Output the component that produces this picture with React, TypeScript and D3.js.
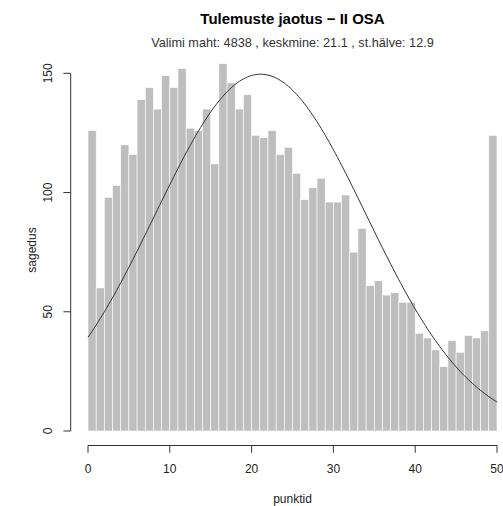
import React from 'react';
import * as d3 from 'd3';

// counts per 1-point bin, 0..50
const binStarts = d3.range(0, 50);
const counts = [
  126, 60, 98, 103, 120, 116, 139, 144, 135, 149,
  144, 152, 127, 126, 135, 112, 154, 146, 135, 141,
  124, 123, 126, 116, 119, 108, 97, 102, 106, 96,
  96, 99, 75, 85, 61, 63, 57, 58, 54, 54,
  41, 39, 34, 27, 38, 33, 40, 39, 42, 124,
];
const xTicks = [0, 10, 20, 30, 40, 50];
const yTicks = [0, 50, 100, 150];

// stats shown in the subtitle (used for the normal curve too)
const sampleSize = 4838;
const sampleMean = 21.1;
const sampleSd = 12.9;

const title = 'Tulemuste jaotus \u2212 II OSA';
const subtitle = `Valimi maht: ${sampleSize} , keskmine: ${sampleMean} , st.hälve: ${sampleSd}`;

const width = 503;
const height = 506;
const font = '"Liberation Sans", Arial, sans-serif';

const App = () => {
  const x = d3.scaleLinear().domain([0, 50]).range([88, 497]);
  const y = d3.scaleLinear().domain([0, 150]).range([431, 73.3]);

  const density = (v: number) =>
    (sampleSize / (sampleSd * Math.sqrt(2 * Math.PI))) *
    Math.exp(-0.5 * ((v - sampleMean) / sampleSd) ** 2);

  const curvePts = d3.range(0, 50.01, 0.25).map((v) => [v, density(v)] as [number, number]);
  const line = d3
    .line<[number, number]>()
    .x((d) => x(d[0]))
    .y((d) => y(d[1]));

  const axisX = 70.7;
  const axisY = 445.5;

  return (
    <svg
      width={width}
      height={height}
      style={{ position: 'absolute', left: 0, top: 0, background: '#fff' }}
      fontFamily={font}
    >
      {/* bars */}
      {binStarts.map((b, i) => (
        <rect
          key={b}
          x={x(b)}
          y={y(counts[i])}
          width={x(b + 1) - x(b)}
          height={y(0) - y(counts[i])}
          fill="#bebebe"
          stroke="#ffffff"
          strokeWidth={0.6}
        />
      ))}

      {/* normal curve */}
      <path d={line(curvePts) || ''} fill="none" stroke="#333" strokeWidth={1} />

      {/* y axis */}
      <line x1={axisX} x2={axisX} y1={y(0)} y2={y(150)} stroke="#333" />
      {yTicks.map((t) => (
        <g key={t}>
          <line x1={axisX - 7.3} x2={axisX} y1={y(t)} y2={y(t)} stroke="#333" />
          <text
            transform={`translate(52,${y(t)}) rotate(-90)`}
            textAnchor="middle"
            fontSize={12}
            fill="#222"
          >
            {t}
          </text>
        </g>
      ))}

      {/* x axis */}
      <line x1={x(0)} x2={x(50)} y1={axisY} y2={axisY} stroke="#333" />
      {xTicks.map((t) => (
        <g key={t}>
          <line x1={x(t)} x2={x(t)} y1={axisY} y2={axisY + 7.3} stroke="#333" />
          <text x={x(t)} y={473} textAnchor="middle" fontSize={12} fill="#222">
            {t}
          </text>
        </g>
      ))}

      {/* labels */}
      <text x={292.5} y={503} textAnchor="middle" fontSize={12} fill="#222">
        punktid
      </text>
      <text
        transform="translate(36,250) rotate(-90)"
        textAnchor="middle"
        fontSize={12}
        fill="#222"
      >
        sagedus
      </text>
      <text x={292.5} y={23.5} textAnchor="middle" fontSize={15} fontWeight="bold" fill="#000">
        {title}
      </text>
      <text x={292.5} y={47} textAnchor="middle" fontSize={12.7} fill="#333">
        {subtitle}
      </text>
    </svg>
  );
};

export default App;
